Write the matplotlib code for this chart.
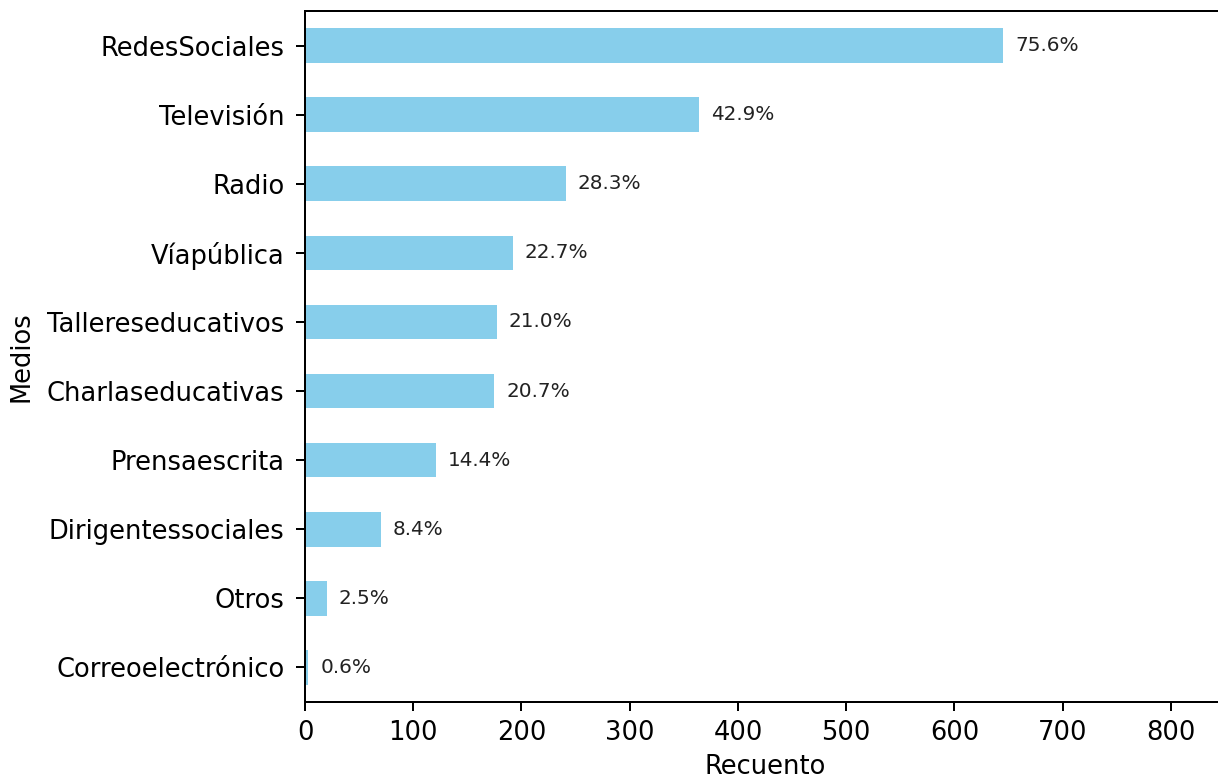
import matplotlib
matplotlib.use("Agg")
import matplotlib.pyplot as plt

# media categories, bottom to top (sorted ascending by count)
medios = ["Correoelectrónico", "Otros", "Dirigentessociales", "Prensaescrita",
          "Charlaseducativas", "Tallereseducativos", "Víapública", "Radio",
          "Televisión", "RedesSociales"]
recuento = [3, 20, 70, 121, 175, 177, 192, 241, 364, 645]
porcentajes = ["0.6%", "2.5%", "8.4%", "14.4%", "20.7%", "21.0%",
               "22.7%", "28.3%", "42.9%", "75.6%"]

DPI = 180
fig = plt.figure(figsize=(1218 / DPI, 780 / DPI), dpi=DPI)
ax = fig.add_axes([305 / 1218, 78 / 780, 920 / 1218, 691 / 780])

ax.barh(range(len(medios)), recuento, height=0.5, color="skyblue")
for i, (v, p) in enumerate(zip(recuento, porcentajes)):
    ax.text(v + 11, i, p, va="center", ha="left", fontsize=8, color="#222222")

ax.set_yticks(range(len(medios)))
ax.set_yticklabels(medios)
ax.set_ylim(-0.5, len(medios) - 0.5)
ax.set_xlim(0, 850)
ax.set_xticks(range(0, 801, 100))
ax.tick_params(axis="y", labelsize=10.3, pad=4.8)
ax.tick_params(axis="x", labelsize=10.3)
ax.set_xlabel("Recuento", fontsize=10.3, labelpad=3.5)
ax.set_ylabel("Medios", fontsize=10.3, labelpad=5)

fig.savefig("out.png", dpi=DPI)
